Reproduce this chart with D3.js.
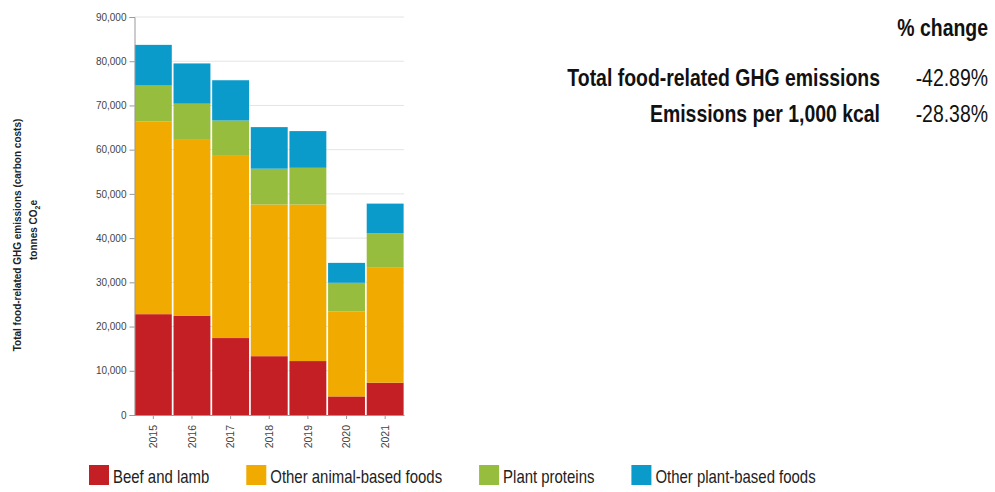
<!DOCTYPE html>
<html>
<head>
<meta charset="utf-8">
<script src="https://cdn.jsdelivr.net/npm/d3@7"></script>
<style>
    body { margin: 0; background: #fff; }
    svg { display: block; font-family: "Liberation Sans", Arial, sans-serif; }
</style>
</head>
<body>
<script>
const years = ["2015", "2016", "2017", "2018", "2019", "2020", "2021"];
const beefLamb = [22800, 22400, 17400, 13300, 12200, 4200, 7300];
const otherAnimal = [43600, 40000, 41200, 34300, 35400, 19200, 26000];
const plantProteins = [8100, 8000, 8000, 8100, 8300, 6500, 7800];
const otherPlant = [9200, 9100, 9100, 9400, 8300, 4500, 6700];
const seriesNames = ["Beef and lamb", "Other animal-based foods", "Plant proteins", "Other plant-based foods"];
const seriesColors = ["#c51f26", "#f0aa00", "#96bd3d", "#0a9bcb"];
const yTicks = [0, 10000, 20000, 30000, 40000, 50000, 60000, 70000, 80000, 90000];
const changeLabels = ["Total food-related GHG emissions", "Emissions per 1,000 kcal"];
const changeValues = ["-42.89%", "-28.38%"];

document.addEventListener('DOMContentLoaded', () => {
    const width = 995;
    const height = 492;
    const left = 134.5, right = 404, top = 17, bottom = 415;
    const squeeze = 0.845;
    const legendSqueeze = 0.83;

    const rows = years.map((y, i) => ({
        year: y,
        [seriesNames[0]]: beefLamb[i],
        [seriesNames[1]]: otherAnimal[i],
        [seriesNames[2]]: plantProteins[i],
        [seriesNames[3]]: otherPlant[i]
    }));
    const stacked = d3.stack().keys(seriesNames)(rows);

    const svg = d3.select("body").append("svg")
        .attr("width", width)
        .attr("height", height);

    const xScale = d3.scaleBand()
        .domain(years)
        .range([left, right])
        .paddingInner(0.045)
        .paddingOuter(0.01);

    const yScale = d3.scaleLinear()
        .domain([0, 90000])
        .range([bottom, top]);

    // gridlines
    svg.append("g")
        .selectAll("line")
        .data(yTicks.filter(d => d > 0))
        .enter()
        .append("line")
        .attr("x1", left)
        .attr("x2", right)
        .attr("y1", d => yScale(d))
        .attr("y2", d => yScale(d))
        .attr("stroke", "#e4e4e4")
        .attr("stroke-width", 1);

    // bars
    svg.append("g")
        .selectAll("g")
        .data(stacked)
        .enter()
        .append("g")
        .attr("fill", (d, i) => seriesColors[i])
        .selectAll("rect")
        .data(d => d)
        .enter()
        .append("rect")
        .attr("x", d => xScale(d.data.year))
        .attr("y", d => yScale(d[1]))
        .attr("width", xScale.bandwidth())
        .attr("height", d => yScale(d[0]) - yScale(d[1]));

    const yAxis = d3.axisLeft(yScale)
        .tickValues(yTicks)
        .tickFormat(d3.format(","))
        .tickSize(5)
        .tickPadding(3);

    const yG = svg.append("g")
        .attr("transform", `translate(${left}, 0)`)
        .call(yAxis);
    yG.select(".domain").attr("stroke", "#999");
    yG.selectAll(".tick line").attr("stroke", "#999");
    yG.selectAll("text").attr("fill", "#444").style("font-size", "10px");

    const xAxis = d3.axisBottom(xScale)
        .tickSize(4)
        .tickSizeOuter(0);

    const xG = svg.append("g")
        .attr("transform", `translate(0, ${bottom})`)
        .call(xAxis);
    xG.select(".domain").attr("stroke", "#999");
    xG.selectAll(".tick line").attr("stroke", "#999");
    xG.selectAll("text")
        .attr("fill", "#444")
        .style("font-size", "10.5px")
        .attr("text-anchor", "end")
        .attr("transform", "rotate(-90)")
        .attr("x", -10)
        .attr("y", 0)
        .attr("dy", "0.35em");

    // y axis title
    svg.append("text")
        .attr("transform", "translate(21, 235) rotate(-90)")
        .attr("text-anchor", "middle")
        .style("font-size", "10px")
        .style("font-weight", "bold")
        .attr("fill", "#222")
        .text("Total food-related GHG emissions (carbon costs)");
    const line2 = svg.append("text")
        .attr("transform", "translate(37, 230) rotate(-90)")
        .attr("text-anchor", "middle")
        .style("font-size", "10px")
        .style("font-weight", "bold")
        .attr("fill", "#222");
    line2.append("tspan").text("tonnes CO");
    line2.append("tspan").attr("dy", 3).style("font-size", "7px").text("2");
    line2.append("tspan").attr("dy", -3).text("e");

    // % change table
    svg.append("text")
        .attr("transform", `translate(988, 36) scale(${squeeze}, 1)`)
        .attr("text-anchor", "end")
        .style("font-size", "23px")
        .style("font-weight", "bold")
        .attr("fill", "#111")
        .text("% change");

    const rowY = [86, 122];
    changeLabels.forEach((label, i) => {
        svg.append("text")
            .attr("transform", `translate(880, ${rowY[i]}) scale(${squeeze}, 1)`)
            .attr("text-anchor", "end")
            .style("font-size", "23px")
            .style("font-weight", "bold")
            .attr("fill", "#111")
            .text(label);
        svg.append("text")
            .attr("transform", `translate(988, ${rowY[i]}) scale(${squeeze}, 1)`)
            .attr("text-anchor", "end")
            .style("font-size", "23px")
            .attr("fill", "#111")
            .text(changeValues[i]);
    });

    // legend
    let lx = 89;
    seriesNames.forEach((name, i) => {
        svg.append("rect")
            .attr("x", lx)
            .attr("y", 465)
            .attr("width", 20)
            .attr("height", 20)
            .attr("fill", seriesColors[i]);
        const t = svg.append("text")
            .attr("transform", `translate(${lx + 24}, 483) scale(${legendSqueeze}, 1)`)
            .style("font-size", "18px")
            .attr("fill", "#222")
            .text(name);
        lx += 24 + t.node().getComputedTextLength() * legendSqueeze + 37;
    });
});
</script>
</body>
</html>
